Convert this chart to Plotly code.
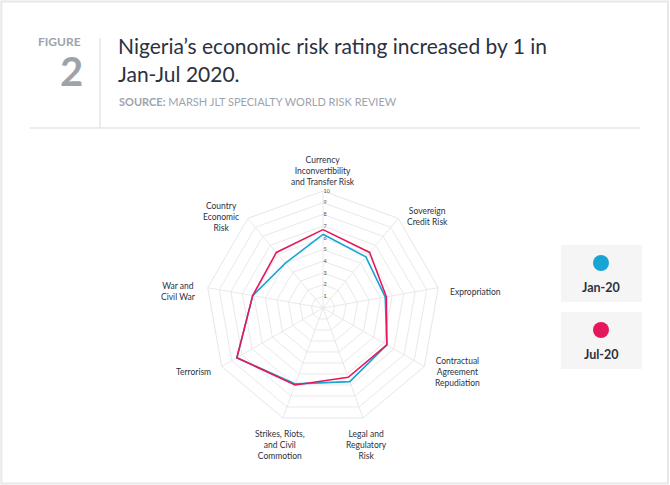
import math
import plotly.graph_objects as go

W, H = 670, 485

categories = [
    "Currency<br>Inconvertibility<br>and Transfer Risk",
    "Sovereign<br>Credit Risk",
    "Expropriation",
    "Contractual<br>Agreement<br>Repudiation",
    "Legal and<br>Regulatory<br>Risk",
    "Strikes, Riots,<br>and Civil<br>Commotion",
    "Terrorism",
    "War and<br>Civil War",
    "Country<br>Economic<br>Risk",
]
jan_20 = [6.3, 5.7, 5.4, 6.3, 6.7, 6.9, 8.5, 6.1, 5.0]
jul_20 = [6.7, 6.2, 5.5, 6.3, 6.3, 7.0, 8.5, 6.1, 6.2]
series_names = ["Jan-20", "Jul-20"]
colors = ["#17a6d3", "#e5185e"]
radial_ticks = list(range(1, 11))

DARK = "#2b3140"
GREY = "#9ea3ab"


def px(x, y):
    # pixel -> paper coords
    return x / W, 1 - y / H


fig = go.Figure()
for name, vals, col in zip(series_names, [jan_20, jul_20], colors):
    fig.add_trace(go.Scatterpolar(
        r=vals + vals[:1],
        theta=categories + categories[:1],
        mode="lines",
        line=dict(color=col, width=1.6),
        name=name,
        showlegend=False,
        hoverinfo="r+theta+name",
    ))

cx, cy, R = 323, 308, 117
x0, y1 = px(cx - R, cy - R)
x1, y0 = px(cx + R, cy + R)

fig.update_layout(
    width=W, height=H,
    margin=dict(l=0, r=0, t=0, b=0),
    paper_bgcolor="white",
    plot_bgcolor="white",
    font=dict(family="Lato, Noto Sans, sans-serif", color=DARK),
    polar=dict(
        domain=dict(x=[x0, x1], y=[y0, y1]),
        bgcolor="white",
        gridshape="linear",
        angularaxis=dict(
            rotation=90, direction="clockwise",
            showline=True, linecolor="#e6e6e6", linewidth=1,
            gridcolor="#e9e9e9", ticks="",
            showticklabels=False,
        ),
        radialaxis=dict(
            range=[0, 10], angle=90, tickangle=90,
            tickvals=radial_ticks,
            showline=False, ticks="",
            gridcolor="#e9e9e9",
            tickfont=dict(size=5.5, color="#555"),
        ),
    ),
)

shapes = []
# card border
shapes.append(dict(type="rect", xref="paper", yref="paper",
                   x0=0.002, x1=0.997, y0=0.003, y1=0.997,
                   line=dict(color="#e8e8e8", width=2), fillcolor="rgba(0,0,0,0)"))
# header separators
a, b = px(100, 38)
c, d = px(100, 128)
shapes.append(dict(type="line", xref="paper", yref="paper", x0=a, x1=c, y0=b, y1=d,
                   line=dict(color="#e6e6e6", width=1.5)))
a, b = px(30, 128)
c, d = px(640, 128)
shapes.append(dict(type="line", xref="paper", yref="paper", x0=a, x1=c, y0=b, y1=d,
                   line=dict(color="#e6e6e6", width=1.5)))

annotations = []


def note(x, y, text, size, color, xanchor="left", yanchor="middle", align="left", **kw):
    ax, ay = px(x, y)
    annotations.append(dict(xref="paper", yref="paper", x=ax, y=ay, text=text,
                            showarrow=False, xanchor=xanchor, yanchor=yanchor,
                            font=dict(size=size, color=color, **kw), align=align))


note(83, 41, "<b>FIGURE</b>", 12, GREY, xanchor="right")
note(85, 71, "<b>2</b>", 40, GREY, xanchor="right")
note(116, 45, "Nigeria’s economic risk rating increased by 1 in", 21, DARK)
note(116, 73, "Jan-Jul 2020.", 21, DARK)
note(117, 101, "<b>SOURCE:</b> MARSH JLT SPECIALTY WORLD RISK REVIEW", 11, GREY)

# category labels around the web, centred text
n = len(categories)
for i, cat in enumerate(categories):
    ang = math.radians(90 - i * 360 / n)
    c_, s_ = math.cos(ang), math.sin(ang)
    pad = 2 if s_ > 0.9 else 10
    lx = cx + (R + pad) * c_
    ly = cy - (R + pad) * s_
    if 0.3 < s_ < 0.9 or abs(s_) < 0.3:
        ly += 6
    xa = "center" if abs(c_) < 0.4 else ("left" if c_ > 0 else "right")
    ya = "middle"
    if s_ > 0.9:
        ya = "bottom"
    elif s_ < -0.9:
        ya = "top"
    note(lx, ly, cat, 8.5, DARK, xanchor=xa, yanchor=ya, align="center")

# legend boxes
for i, (name, col) in enumerate(zip(series_names, colors)):
    top = 245 + i * 67
    bx0, by1 = px(561, top)
    bx1, by0 = px(642, top + 57)
    shapes.append(dict(type="rect", xref="paper", yref="paper",
                       x0=bx0, x1=bx1, y0=by0, y1=by1,
                       line=dict(width=0), fillcolor="#f5f5f5"))
    ex0, ey1 = px(593, top + 10)
    ex1, ey0 = px(609, top + 26)
    shapes.append(dict(type="circle", xref="paper", yref="paper",
                       x0=ex0, x1=ex1, y0=ey0, y1=ey1,
                       line=dict(width=0), fillcolor=col))
    note(601, top + 42, "<b>" + name + "</b>", 12.5, DARK, xanchor="center")

fig.update_layout(shapes=shapes, annotations=annotations)

fig.write_html("out.html", config={"displayModeBar": False},
               post_script="document.body.style.margin='0';")
